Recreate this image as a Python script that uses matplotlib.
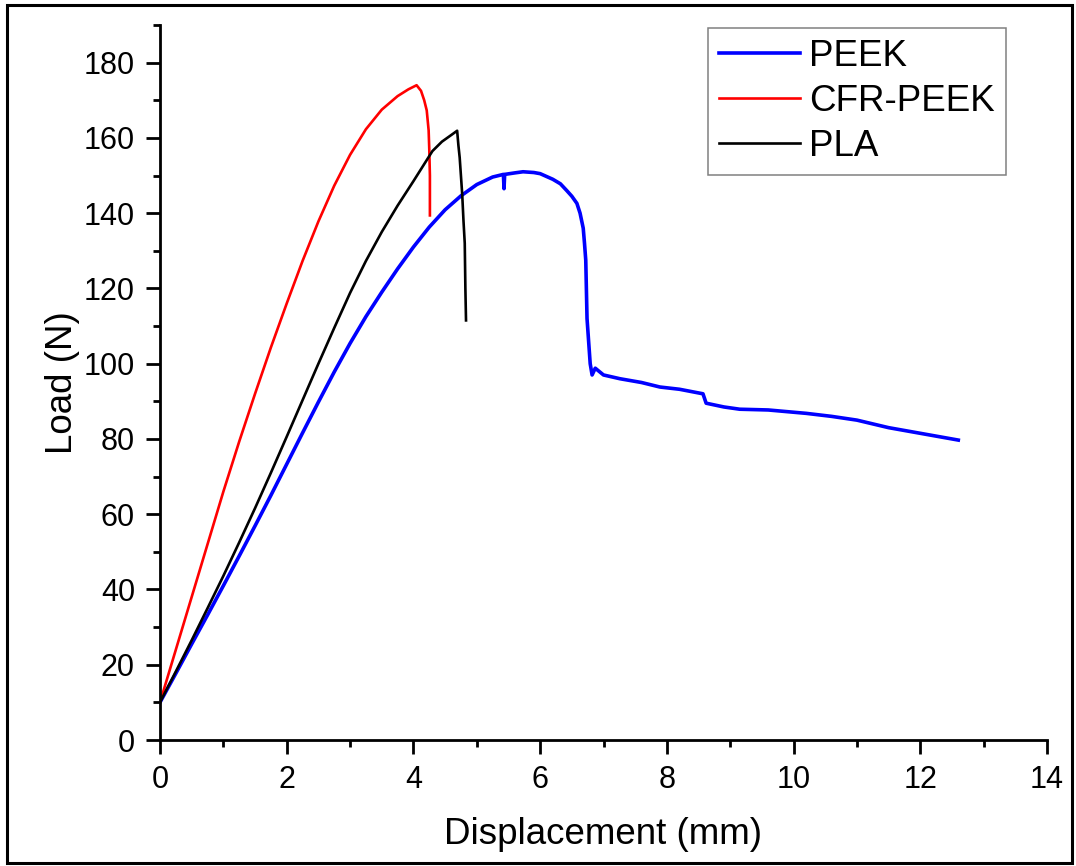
import matplotlib
matplotlib.use("Agg")
import matplotlib.pyplot as plt
from matplotlib.patches import Rectangle
from matplotlib.ticker import MultipleLocator

plt.rcParams['font.family'] = ['Liberation Sans', 'DejaVu Sans']

# PEEK (blue)
peek_x = [0, 0.25, 0.5, 0.75, 1.0, 1.25, 1.5, 1.75, 2.0, 2.25, 2.5, 2.75, 3.0, 3.25, 3.5,
          3.75, 4.0, 4.25, 4.5, 4.75, 5.0, 5.25, 5.42, 5.43, 5.44, 5.6, 5.73, 5.9, 6.0,
          6.2, 6.32, 6.42, 6.5, 6.58, 6.63, 6.68, 6.7, 6.72, 6.74, 6.79, 6.82, 6.87, 7.0,
          7.26, 7.6, 7.89, 8.2, 8.57, 8.62, 8.9, 9.15, 9.6, 10.2, 10.6, 11.0, 11.5, 12.0,
          12.6]
peek_y = [10, 17.7, 25.5, 33.2, 41, 48.9, 56.9, 65, 73.3, 81.6, 89.8, 97.8, 105.4, 112.5, 119,
          125.2, 131, 136.3, 140.9, 144.6, 147.6, 149.6, 150.3, 146.5, 150.3, 150.7, 151, 150.8, 150.5,
          149, 147.8, 146, 144.5, 142.6, 140, 136, 132, 127.5, 112, 100, 97, 98.8, 97,
          96, 95, 93.8, 93.2, 92, 89.5, 88.5, 87.9, 87.7, 86.8, 86, 85, 83, 81.5,
          79.7]

# CFR-PEEK (red)
cfr_x = [0, 0.5, 1.0, 1.25, 1.5, 1.75, 2.0, 2.25, 2.5, 2.75, 3.0, 3.25, 3.5, 3.75,
         3.92, 4.05, 4.12, 4.17, 4.21, 4.24, 4.25, 4.26, 4.26]
cfr_y = [10, 38, 66, 79.3, 92, 104.3, 116, 127.3, 137.8, 147.3, 155.5, 162.3, 167.5, 171.1,
         172.9, 174, 172.5, 170, 167.3, 162, 157, 150, 139.4]

# PLA (black)
pla_x = [0, 0.25, 0.5, 0.75, 1.0, 1.25, 1.5, 1.75, 2.0, 2.25, 2.5, 2.75, 3.0, 3.25, 3.5,
         3.75, 4.0, 4.15, 4.3, 4.45, 4.6, 4.69, 4.71, 4.73, 4.77, 4.79, 4.81, 4.82, 4.83]
pla_y = [10, 18.2, 26.5, 35, 43.6, 52.5, 61.6, 71, 80.6, 90.3, 100, 109.5, 118.8, 127.3, 135,
         142, 148.5, 152.5, 156.5, 159, 160.8, 161.9, 158, 154.8, 145, 138, 132, 120, 111.5]

fig = plt.figure(figsize=(10.76, 8.66), dpi=100)
ax = fig.add_axes([160/1076, 1-740/866, (1047-160)/1076, (740-25)/866])

ax.plot(peek_x, peek_y, color='#0000ff', lw=2.6, label='PEEK')
ax.plot(cfr_x, cfr_y, color='#ff0000', lw=1.9, label='CFR-PEEK')
ax.plot(pla_x, pla_y, color='black', lw=1.9, label='PLA')

ax.set_xlim(0, 14)
ax.set_ylim(0, 190)
ax.xaxis.set_major_locator(MultipleLocator(2))
ax.xaxis.set_minor_locator(MultipleLocator(1))
ax.yaxis.set_major_locator(MultipleLocator(20))
ax.yaxis.set_minor_locator(MultipleLocator(10))

for s in ['top', 'right']:
    ax.spines[s].set_visible(False)
for s in ['left', 'bottom']:
    ax.spines[s].set_linewidth(2.0)
ax.tick_params(which='major', direction='out', length=10, width=2.0, labelsize=22, pad=8)
ax.tick_params(which='minor', direction='out', length=5, width=2.0)

ax.set_xlabel('Displacement (mm)', fontsize=26.5, labelpad=16)
ax.set_ylabel('Load (N)', fontsize=26.5, labelpad=3)

leg = ax.legend(loc='upper left', bbox_to_anchor=(708/1076, 1-28/866),
                bbox_transform=fig.transFigure, borderaxespad=0, fontsize=26.5,
                fancybox=False, edgecolor='#808080', framealpha=1,
                handlelength=2.2, handletextpad=0.25, borderpad=0.3, labelspacing=0.27)
leg.get_frame().set_linewidth(1.1)

fig.patches.append(Rectangle((7/1076, 3/866), (1072-7)/1076, (863-5)/866,
                             transform=fig.transFigure, fill=False, lw=2.2, color='black'))

fig.savefig('out.png', dpi=100)
